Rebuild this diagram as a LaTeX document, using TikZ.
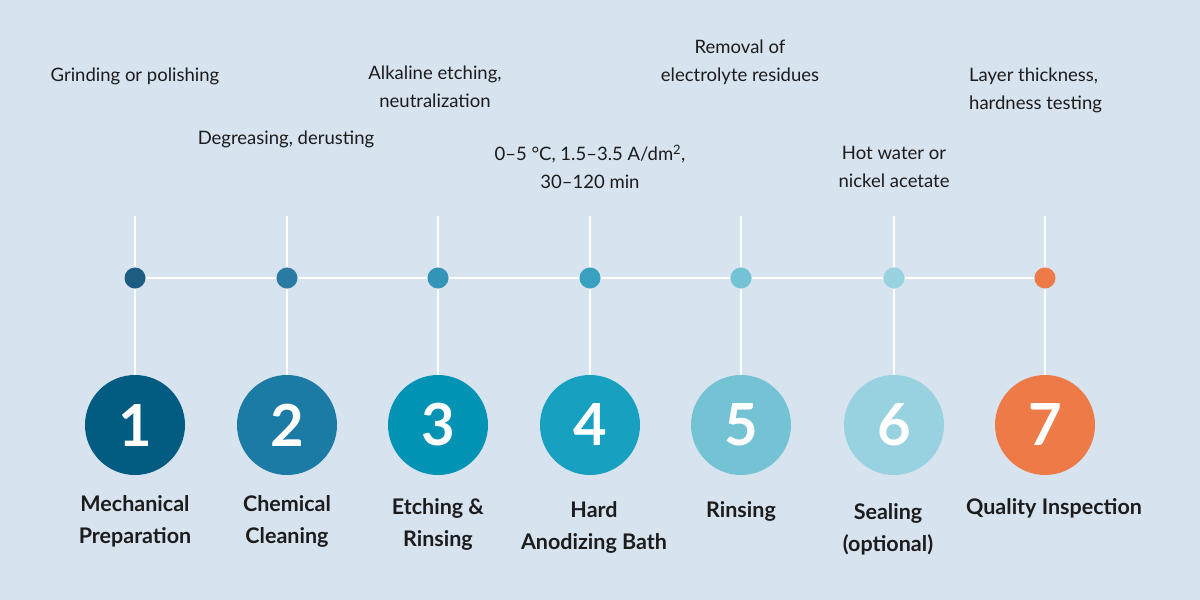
\documentclass[tikz,border=0pt]{standalone}
\usepackage{fontspec}
\setmainfont{Lato}
\usetikzlibrary{positioning}
\definecolor{bgcol}{HTML}{D8E3F0}
\definecolor{txtcol}{HTML}{1C1C1C}
\definecolor{s1}{HTML}{025B81}
\definecolor{s2}{HTML}{1B7BA5}
\definecolor{s3}{HTML}{0393B4}
\definecolor{s4}{HTML}{17A0C0}
\definecolor{s5}{HTML}{74C3D5}
\definecolor{s6}{HTML}{98D1E0}
\definecolor{s7}{HTML}{EE7A47}
\definecolor{d1}{HTML}{1D5D82}
\definecolor{d2}{HTML}{2A7BA4}
\definecolor{d3}{HTML}{3294B6}
\definecolor{d4}{HTML}{3AA0C0}
\definecolor{d5}{HTML}{74C3D5}
\definecolor{d6}{HTML}{98D1E0}
\definecolor{d7}{HTML}{EE7A47}

\begin{document}
\begin{tikzpicture}[x=1pt,y=-1pt,
  stepcircle/.style={circle,minimum size=100pt,inner sep=0pt,text=white,font=\fontsize{58}{58}\selectfont\bfseries},
  dot/.style={circle,minimum size=21pt,inner sep=0pt},
  stem/.style={white,line width=2pt},
  title/.style={align=center,text=txtcol,inner sep=0pt,font=\fontsize{21.5}{32}\selectfont\bfseries},
  note/.style={align=center,text=txtcol,inner sep=0pt,font=\fontsize{18.5}{28}\selectfont}]
\fill[bgcol] (0,0) rectangle (1200,600);

\foreach \i/\x in {1/135,2/287,3/438,4/590,5/741,6/894,7/1045}{
	\node[stepcircle,fill=s\i] (S\i) at (\x,425) {\i};
	\node[dot,fill=d\i] (D\i) at (\x,278) {};
	\coordinate (T\i) at (\x,216);
	\draw[stem] (T\i) -- (D\i.north);
	\draw[stem] (D\i.south) -- (S\i.north);
}
\foreach \i [evaluate={\j=int(\i+1)}] in {1,...,6}{
	\draw[stem] (D\i.east) -- (D\j.west);
}

% step titles
\node[title] (L1) at (135,521) {Mechanical\\Preparation};
\node[title] (L2) at (287,521) {Chemical\\Cleaning};
\node[title] (L3) at (438,524) {Etching \&\\Rinsing};
\node[title] (L4) at (594,527) {Hard\\Anodizing Bath};
\node[title] (L5) at (741,511) {Rinsing};
\node[title] (L6) at (888,529) {Sealing\\(optional)};
\node[title] (L7) at (1054,508) {Quality Inspection};

% details above the line
\node[note] (N1) at (135,76) {Grinding or polishing};
\node[note] (N2) at (286,139) {Degreasing, derusting};
\node[note] (N3) at (435,87) {Alkaline etching,\\neutralization};
\node[note] (N4) at (590,167) {0–5 °C, 1.5–3.5 A/dm\textsuperscript{2},\\30–120 min};
\node[note] (N5) at (740,62) {Removal of\\electrolyte residues};
\node[note] (N6) at (894,167) {Hot water or\\nickel acetate};
\node[note,align=left,anchor=west] (N7) at (969,90) {Layer thickness,\\hardness testing};
\end{tikzpicture}
\end{document}
